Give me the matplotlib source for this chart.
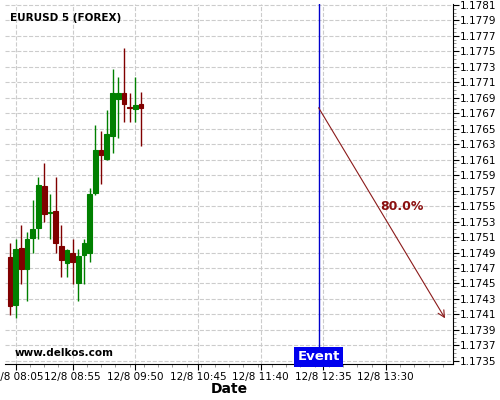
import matplotlib
matplotlib.use("Agg")
import matplotlib.pyplot as plt
from matplotlib.ticker import AutoMinorLocator, FixedLocator, FormatStrFormatter

# candle times in minutes after midnight (12/8 08:00 .. 09:55, 5 min bars)
times = [480 + 5 * i for i in range(24)]
opens = [1.17484, 1.17422, 1.17496, 1.17469, 1.17509, 1.17522, 1.17576, 1.17541,
         1.17543, 1.17498, 1.17477, 1.17490, 1.17450, 1.17487, 1.17489, 1.17567,
         1.17623, 1.17611, 1.17641, 1.17688, 1.17696, 1.17678, 1.17675, 1.17682]
highs = [1.17502, 1.17507, 1.17526, 1.17517, 1.17558, 1.17587, 1.17606, 1.17566,
         1.17588, 1.17526, 1.17495, 1.17508, 1.17494, 1.17508, 1.17573, 1.17655,
         1.17647, 1.17674, 1.17727, 1.17717, 1.17754, 1.17696, 1.17717, 1.17697]
lows = [1.17409, 1.17405, 1.17449, 1.17428, 1.17489, 1.17508, 1.17529, 1.17508,
        1.17489, 1.17459, 1.17459, 1.17449, 1.17428, 1.17449, 1.17478, 1.17564,
        1.17579, 1.17610, 1.17618, 1.17638, 1.17659, 1.17658, 1.17658, 1.17627]
closes = [1.17421, 1.17494, 1.17469, 1.17508, 1.17520, 1.17577, 1.17540, 1.17542,
          1.17502, 1.17480, 1.17493, 1.17478, 1.17486, 1.17502, 1.17566, 1.17623,
          1.17616, 1.17643, 1.17696, 1.17696, 1.17682, 1.17677, 1.17680, 1.17677]

tick_times = [485, 535, 590, 645, 700, 755, 810]
tick_labels = ["12/8 08:05", "12/8 08:55", "12/8 09:50", "12/8 10:45",
               "12/8 11:40", "12/8 12:35", "12/8 13:30"]

event_time = 751
arrow_end_time = 862
arrow_end_price = 1.17405
prob_text = "80.0%"

up = "#008000"
down = "#800000"

fig = plt.figure(figsize=(5, 4), dpi=100)
ax = fig.add_axes([0.01, 0.09, 0.896, 0.90])

for t, o, h, l, c in zip(times, opens, highs, lows, closes):
    col = up if c >= o else down
    ax.vlines(t, l, h, color=col, linewidth=1.0, zorder=3)
    ax.bar(t, abs(c - o), bottom=min(o, c), width=4.1, color=col,
           edgecolor=col, linewidth=0.8, zorder=4)

# event marker
ax.axvline(event_time, color="#0000cc", linewidth=1.0, zorder=2)
ax.text(event_time, 1.17347, "Event", color="white", fontsize=9.5, fontweight="bold",
        ha="center", va="bottom",
        bbox=dict(boxstyle="square,pad=0.25", facecolor="#0000ee", edgecolor="none"),
        zorder=6)

last_close = closes[-1]
ax.annotate("", xy=(arrow_end_time, arrow_end_price), xytext=(event_time, last_close),
            arrowprops=dict(arrowstyle="->", color="#8b1a1a", lw=0.8,
                            mutation_scale=12, shrinkA=0, shrinkB=0), zorder=5)
ax.text(824, 1.17550, prob_text, color="#8b1010", fontsize=9, fontweight="bold",
        ha="center", va="center", zorder=6)

ax.text(0.011, 0.975, "EURUSD 5 (FOREX)", transform=ax.transAxes, fontsize=7.5,
        fontweight="bold", ha="left", va="top")
ax.text(0.022, 0.03, "www.delkos.com", transform=ax.transAxes, fontsize=7.5,
        fontweight="bold", ha="left", va="center")

ax.set_xlim(475.6, 869)
ax.set_ylim(1.17346, 1.17811)

ax.xaxis.set_major_locator(FixedLocator(tick_times))
ax.set_xticklabels(tick_labels, fontsize=7.5)
ax.xaxis.set_minor_locator(AutoMinorLocator(4))
ax.set_xlabel("Date", fontsize=10, fontweight="bold", labelpad=0)

ax.yaxis.tick_right()
ax.set_yticks([1.1735 + 0.0002 * i for i in range(24)])
ax.yaxis.set_major_formatter(FormatStrFormatter("%.4f"))
ax.yaxis.set_minor_locator(AutoMinorLocator(4))
ax.tick_params(axis="y", labelsize=7.5, length=4, pad=1)
ax.tick_params(axis="x", length=4, pad=1.5)
ax.tick_params(which="minor", length=2, color="#888888")

for side in ["left", "top"]:
    ax.spines[side].set_visible(False)

ax.grid(True, color="#cccccc", linestyle="--", linewidth=0.8)
ax.set_axisbelow(True)

fig.savefig("out.png", dpi=100)
